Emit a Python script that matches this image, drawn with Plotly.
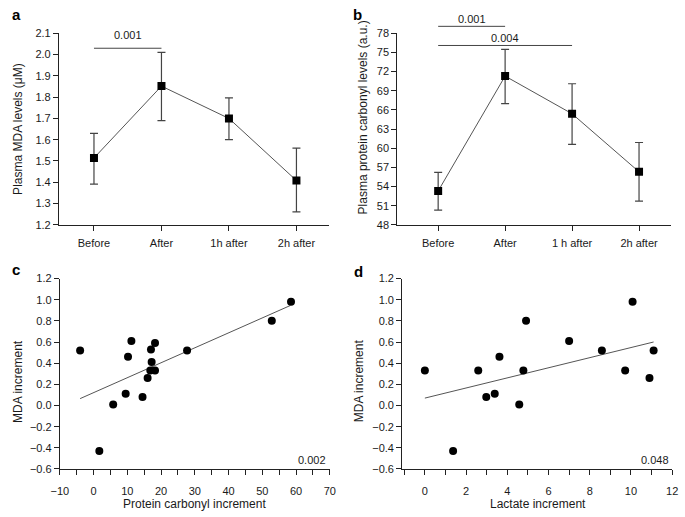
import plotly.graph_objects as go

# ---------------- data ----------------
times = ["Before", "After", "1h after", "2h after"]
times_b = ["Before", "After", "1 h after", "2h after"]

mda_mean = [1.514, 1.852, 1.700, 1.408]
mda_upper = [1.630, 2.011, 1.797, 1.560]
mda_lower = [1.391, 1.690, 1.600, 1.261]

pc_mean = [53.3, 71.3, 65.4, 56.3]
pc_upper = [56.2, 75.5, 70.1, 60.9]
pc_lower = [50.3, 67.0, 60.6, 51.7]

# significance brackets: (start category, end category, level, label level, label)
sig_a = [("Before", "After", 2.03, 2.09, "0.001")]
sig_b = [("Before", "After", 79.1, 80.3, "0.001"),
         ("Before", "1 h after", 76.1, 77.3, "0.004")]

pcinc_x = [-4.0, 1.7, 5.8, 9.5, 10.2, 11.2, 14.5, 16.0, 17.0, 17.2, 16.8, 18.2, 18.2, 27.7, 52.8, 58.5]
pcinc_y = [0.52, -0.43, 0.01, 0.11, 0.46, 0.61, 0.08, 0.26, 0.53, 0.41, 0.33, 0.59, 0.33, 0.52, 0.80, 0.98]
fit_c_x = [-4.0, 58.3]
fit_c_y = [0.065, 0.945]
p_c = "0.002"

lac_x = [0.0, 1.37, 2.59, 2.98, 3.39, 3.62, 4.58, 4.78, 4.91, 7.0, 8.59, 9.72, 10.08, 10.9, 11.1]
lac_y = [0.33, -0.43, 0.33, 0.08, 0.11, 0.46, 0.01, 0.33, 0.80, 0.61, 0.52, 0.33, 0.98, 0.26, 0.52]
fit_d_x = [0.0, 11.1]
fit_d_y = [0.07, 0.60]
p_d = "0.048"

# ---------------- layout helpers ----------------
W, H = 685, 517
FONT = "Liberation Sans, Arial, sans-serif"
TXT = "#1a1a1a"


def fx(px):
    return px / W


def fy(py):
    return 1 - py / H


fig = go.Figure()

err_style = dict(color="#444444", thickness=1.2, width=4)

fig.add_trace(go.Scatter(
    x=times, y=mda_mean, mode="lines+markers",
    line=dict(color="#555555", width=1),
    marker=dict(symbol="square", size=8, color="black"),
    error_y=dict(type="data", symmetric=False,
                 array=[u - m for u, m in zip(mda_upper, mda_mean)],
                 arrayminus=[m - l for m, l in zip(mda_mean, mda_lower)], **err_style),
    xaxis="x", yaxis="y", showlegend=False))

fig.add_trace(go.Scatter(
    x=times_b, y=pc_mean, mode="lines+markers",
    line=dict(color="#555555", width=1),
    marker=dict(symbol="square", size=8, color="black"),
    error_y=dict(type="data", symmetric=False,
                 array=[u - m for u, m in zip(pc_upper, pc_mean)],
                 arrayminus=[m - l for m, l in zip(pc_mean, pc_lower)], **err_style),
    xaxis="x2", yaxis="y2", showlegend=False))

fig.add_trace(go.Scatter(x=fit_c_x, y=fit_c_y, mode="lines",
                         line=dict(color="#555555", width=1),
                         xaxis="x3", yaxis="y3", showlegend=False))
fig.add_trace(go.Scatter(x=pcinc_x, y=pcinc_y, mode="markers",
                         marker=dict(symbol="circle", size=8, color="black"),
                         xaxis="x3", yaxis="y3", showlegend=False))

fig.add_trace(go.Scatter(x=fit_d_x, y=fit_d_y, mode="lines",
                         line=dict(color="#555555", width=1),
                         xaxis="x4", yaxis="y4", showlegend=False))
fig.add_trace(go.Scatter(x=lac_x, y=lac_y, mode="markers",
                         marker=dict(symbol="circle", size=8, color="black"),
                         xaxis="x4", yaxis="y4", showlegend=False))

tickfont = dict(family=FONT, size=11, color=TXT)
axcommon = dict(showline=True, linecolor="#222222", linewidth=1, ticks="outside",
                ticklen=5, tickcolor="#222222", tickwidth=1, showgrid=False,
                zeroline=False, tickfont=tickfont, fixedrange=True)

# domains (pixels)
A_X = (51, 327); B_X = (397, 677); C_X = (52, 328); D_X = (402, 678)
TOP_Y = (28, 224); BOT_Y = (279, 474)

ranges_a = [1.2, 2.1]
ranges_b = [48, 78]

fig.update_layout(
    width=W, height=H, margin=dict(l=0, r=0, t=0, b=0),
    paper_bgcolor="white", plot_bgcolor="white",
    font=dict(family=FONT, color=TXT),
    xaxis=dict(domain=[fx(A_X[0]), fx(A_X[1])], anchor="y", type="category",
               range=[-0.52, 3.48], ticklabelstandoff=3, **axcommon),
    yaxis=dict(domain=[fy(TOP_Y[1]), fy(TOP_Y[0])], anchor="x", range=ranges_a,
               dtick=0.1, tickformat=".1f", **axcommon),
    xaxis2=dict(domain=[fx(B_X[0]), fx(B_X[1])], anchor="y2", type="category",
                range=[-0.61, 3.48], ticklabelstandoff=3, **axcommon),
    yaxis2=dict(domain=[fy(TOP_Y[1]), fy(TOP_Y[0])], anchor="x2", range=ranges_b,
                dtick=3, **axcommon),
    xaxis3=dict(domain=[fx(C_X[0]), fx(C_X[1])], anchor="y3", range=[-10, 70],
                dtick=10, tick0=0, ticklabelstandoff=7,
                minor=dict(dtick=5, ticks="outside", ticklen=5, tickcolor="#222222"),
                **axcommon),
    yaxis3=dict(domain=[fy(BOT_Y[1]), fy(BOT_Y[0])], anchor="x3", range=[-0.6, 1.2],
                dtick=0.2, tickformat=".1f", **axcommon),
    xaxis4=dict(domain=[fx(D_X[0]), fx(D_X[1])], anchor="y4", range=[-1.1, 12],
                dtick=2, tick0=0, ticklabelstandoff=7,
                minor=dict(dtick=1, ticks="outside", ticklen=5, tickcolor="#222222"),
                **axcommon),
    yaxis4=dict(domain=[fy(BOT_Y[1]), fy(BOT_Y[0])], anchor="x4", range=[-0.6, 1.2],
                dtick=0.2, tickformat=".1f", **axcommon),
)

annotations = []
shapes = []


def add_sig(sigs, xref, yref, rng):
    lo, hi = rng
    for c0, c1, lvl, tlvl, label in sigs:
        yb = (lvl - lo) / (hi - lo)
        yt = (tlvl - lo) / (hi - lo)
        shapes.append(dict(type="line", xref=xref, yref=yref + " domain",
                           x0=c0, x1=c1, y0=yb, y1=yb,
                           line=dict(color="#444444", width=1)))
        cats = times if xref == "x" else times_b
        xm = (cats.index(c0) + cats.index(c1)) / 2
        annotations.append(dict(text=label, xref=xref, yref=yref + " domain",
                                x=xm, y=yt, showarrow=False, xanchor="center",
                                yanchor="middle", font=dict(family=FONT, size=11, color=TXT)))


add_sig(sig_a, "x", "y", ranges_a)
add_sig(sig_b, "x2", "y2", ranges_b)

title_font = dict(family=FONT, size=12, color=TXT)
# y-axis titles
for text, px, py in [("Plasma MDA levels (\u03bcM)", 9, 126),
                     ("Plasma protein carbonyl levels (a.u.)", 362, 114),
                     ("MDA increment", 9, 384),
                     ("MDA increment", 358, 384)]:
    annotations.append(dict(text=text, xref="paper", yref="paper", x=fx(px), y=fy(py),
                            textangle=-90, showarrow=False, xanchor="center",
                            yanchor="middle", font=title_font))
# x-axis titles
for text, px, py in [("Protein carbonyl increment", 190, 510),
                     ("Lactate increment", 541, 510)]:
    annotations.append(dict(text=text, xref="paper", yref="paper", x=fx(px), y=fy(py),
                            showarrow=False, xanchor="center", yanchor="middle",
                            font=title_font))
# p-values in scatter panels
for text, xr, yr in [(p_c, "x3", "y3"), (p_d, "x4", "y4")]:
    annotations.append(dict(text=text, xref=xr + " domain", yref=yr + " domain",
                            x=0.995, y=0.045, showarrow=False, xanchor="right",
                            yanchor="middle", font=dict(family=FONT, size=11, color=TXT)))
# panel letters
for text, px, py in [("a", 8, 9), ("b", 356, 9), ("c", 7, 270), ("d", 357, 272)]:
    annotations.append(dict(text="<b>%s</b>" % text, xref="paper", yref="paper",
                            x=fx(px), y=fy(py), showarrow=False, xanchor="center",
                            yanchor="middle",
                            font=dict(family=FONT, size=15, color="black")))

fig.update_layout(annotations=annotations, shapes=shapes)

fig.write_html("out.html", config={"displayModeBar": False},
               post_script="document.body.style.margin='0px';")
